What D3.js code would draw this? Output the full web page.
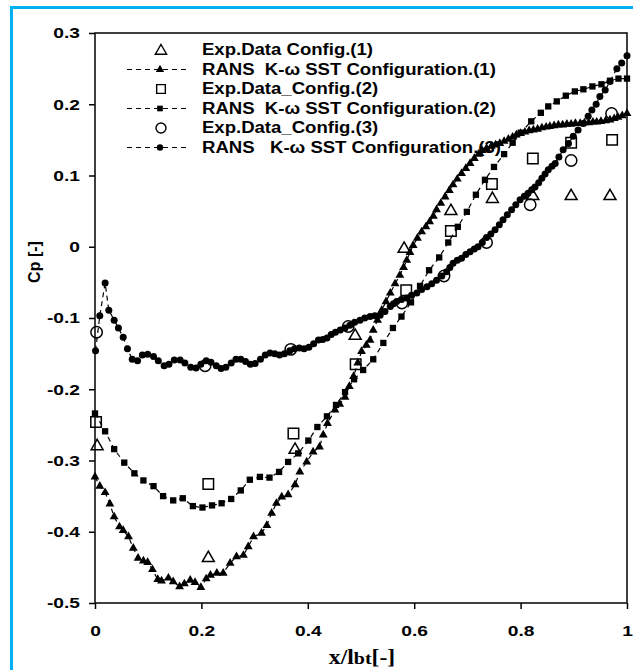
<!DOCTYPE html>
<html>

<head>
	<meta charset="utf-8">
	<title>Cp distribution</title>
	<script src="https://d3js.org/d3.v7.min.js"></script>
</head>

<style>
	body {
		margin: 0;
		background: #fff;
	}

	text {
		font-family: Arial, "Liberation Sans", sans-serif;
		font-weight: bold;
	}
</style>

<body>
	<svg id="room" width="633" height="670"></svg>
</body>
<script>
	// tick values
	var xTicks = [0, 0.2, 0.4, 0.6, 0.8, 1]
	var yTicks = [-0.5, -0.4, -0.3, -0.2, -0.1, 0, 0.1, 0.2, 0.3]

	// experimental points
	var exp1X = [0.004, 0.213, 0.376, 0.489, 0.581, 0.669, 0.747, 0.823, 0.895, 0.968]
	var exp1Y = [-0.28, -0.437, -0.285, -0.125, -0.003, 0.05, 0.067, 0.071, 0.071, 0.071]

	var exp2X = [0.002, 0.213, 0.373, 0.49, 0.585, 0.669, 0.746, 0.823, 0.895, 0.972]
	var exp2Y = [-0.246, -0.333, -0.262, -0.165, -0.061, 0.022, 0.088, 0.124, 0.146, 0.15]

	var exp3X = [0.003, 0.207, 0.368, 0.476, 0.577, 0.656, 0.736, 0.818, 0.895, 0.971]
	var exp3Y = [-0.12, -0.167, -0.144, -0.112, -0.079, -0.041, 0.006, 0.059, 0.121, 0.187]

	// RANS k-w SST, config 1
	var rans1X = [0, 0.009, 0.019, 0.028, 0.036, 0.046, 0.053, 0.063, 0.072, 0.081, 0.091, 0.099, 0.108, 0.118, 0.125,
		0.138, 0.147, 0.159, 0.168, 0.179, 0.188, 0.199, 0.209, 0.217, 0.229, 0.241, 0.254, 0.266, 0.279, 0.288, 0.298,
		0.313, 0.323, 0.332, 0.341, 0.351, 0.363, 0.376, 0.385, 0.398, 0.41, 0.422, 0.429, 0.437, 0.451, 0.46, 0.47,
		0.478, 0.486, 0.494, 0.501, 0.51, 0.517, 0.523, 0.531, 0.539, 0.547, 0.555, 0.564, 0.573, 0.58, 0.586, 0.592,
		0.598, 0.606, 0.614, 0.622, 0.629, 0.636, 0.642, 0.65, 0.658, 0.666, 0.673, 0.681, 0.689, 0.697, 0.705, 0.713,
		0.721, 0.728, 0.736, 0.745, 0.753, 0.761, 0.769, 0.777, 0.785, 0.792, 0.8, 0.808, 0.816, 0.824, 0.832, 0.84,
		0.848, 0.855, 0.863, 0.871, 0.879, 0.887, 0.895, 0.903, 0.912, 0.92, 0.928, 0.936, 0.943, 0.951, 0.96, 0.968,
		0.976, 0.983, 0.991, 1
	]
	var rans1Y = [-0.323, -0.336, -0.345, -0.361, -0.379, -0.393, -0.398, -0.407, -0.423, -0.437, -0.441, -0.443, -0.453,
		-0.467, -0.469, -0.465, -0.47, -0.477, -0.473, -0.468, -0.471, -0.478, -0.466, -0.461, -0.458, -0.458, -0.444,
		-0.435, -0.433, -0.421, -0.407, -0.402, -0.391, -0.374, -0.36, -0.351, -0.348, -0.334, -0.316, -0.302, -0.288,
		-0.281, -0.264, -0.248, -0.229, -0.221, -0.211, -0.196, -0.182, -0.163, -0.147, -0.138, -0.131, -0.117, -0.103,
		-0.089, -0.077, -0.065, -0.052, -0.04, -0.029, -0.019, -0.008, 0.002, 0.012, 0.021, 0.028, 0.035, 0.043, 0.052,
		0.061, 0.07, 0.079, 0.087, 0.095, 0.103, 0.11, 0.117, 0.124, 0.13, 0.135, 0.138, 0.141, 0.143, 0.145, 0.148,
		0.151, 0.154, 0.157, 0.159, 0.161, 0.163, 0.164, 0.165, 0.167, 0.168, 0.169, 0.17, 0.171, 0.171, 0.172, 0.172,
		0.173, 0.173, 0.174, 0.174, 0.175, 0.175, 0.176, 0.177, 0.178, 0.18, 0.182, 0.184, 0.187
	]

	// RANS k-w SST, config 2
	var rans2X = [0, 0.019, 0.036, 0.055, 0.074, 0.091, 0.11, 0.128, 0.147, 0.165, 0.184, 0.202, 0.22, 0.238, 0.256,
		0.274, 0.291, 0.31, 0.328, 0.346, 0.363, 0.382, 0.401, 0.418, 0.436, 0.453, 0.47, 0.487, 0.504, 0.523, 0.542,
		0.56, 0.576, 0.594, 0.611, 0.628, 0.647, 0.664, 0.682, 0.699, 0.716, 0.733, 0.75, 0.769, 0.785, 0.8, 0.82,
		0.838, 0.852, 0.868, 0.885, 0.902, 0.918, 0.935, 0.952, 0.968, 0.984, 1
	]
	var rans2Y = [-0.234, -0.259, -0.284, -0.303, -0.318, -0.328, -0.336, -0.35, -0.356, -0.353, -0.364, -0.366, -0.363,
		-0.36, -0.354, -0.342, -0.327, -0.323, -0.324, -0.316, -0.302, -0.29, -0.272, -0.253, -0.238, -0.222, -0.204,
		-0.186, -0.173, -0.158, -0.135, -0.114, -0.098, -0.078, -0.055, -0.033, -0.015, 0.006, 0.028, 0.049, 0.073,
		0.094, 0.112, 0.13, 0.146, 0.16, 0.176, 0.188, 0.197, 0.204, 0.212, 0.218, 0.221, 0.225, 0.228, 0.233, 0.236,
		0.236
	]

	// RANS k-w SST, config 3
	var rans3X = [0.001, 0.009, 0.019, 0.026, 0.036, 0.044, 0.053, 0.061, 0.07, 0.08, 0.089, 0.099, 0.11, 0.119, 0.13,
		0.139, 0.149, 0.16, 0.169, 0.18, 0.19, 0.199, 0.209, 0.218, 0.228, 0.237, 0.246, 0.256, 0.265, 0.274, 0.283,
		0.292, 0.301, 0.311, 0.32, 0.329, 0.338, 0.347, 0.356, 0.366, 0.375, 0.384, 0.393, 0.402, 0.411, 0.42, 0.428,
		0.436, 0.444, 0.452, 0.461, 0.47, 0.479, 0.488, 0.498, 0.507, 0.517, 0.526, 0.536, 0.545, 0.555, 0.561, 0.567,
		0.576, 0.586, 0.595, 0.605, 0.614, 0.624, 0.633, 0.642, 0.652, 0.661, 0.667, 0.673, 0.681, 0.689, 0.697, 0.705,
		0.713, 0.72, 0.728, 0.736, 0.744, 0.752, 0.76, 0.767, 0.775, 0.783, 0.791, 0.799, 0.807, 0.814, 0.821, 0.827,
		0.834, 0.84, 0.846, 0.852, 0.859, 0.865, 0.872, 0.88, 0.89, 0.899, 0.908, 0.918, 0.927, 0.934, 0.942, 0.949,
		0.959, 0.968, 0.981, 0.99, 1
	]
	var rans3Y = [-0.146, -0.097, -0.051, -0.089, -0.103, -0.114, -0.127, -0.143, -0.158, -0.16, -0.152, -0.151, -0.154,
		-0.16, -0.167, -0.165, -0.159, -0.159, -0.163, -0.169, -0.17, -0.165, -0.16, -0.162, -0.167, -0.171, -0.169,
		-0.163, -0.158, -0.158, -0.161, -0.165, -0.164, -0.158, -0.152, -0.149, -0.15, -0.152, -0.15, -0.146, -0.143,
		-0.142, -0.143, -0.141, -0.136, -0.131, -0.13, -0.128, -0.123, -0.12, -0.117, -0.114, -0.11, -0.106, -0.103,
		-0.1, -0.098, -0.097, -0.096, -0.091, -0.084, -0.08, -0.077, -0.074, -0.072, -0.068, -0.065, -0.06, -0.056,
		-0.052, -0.047, -0.041, -0.035, -0.029, -0.023, -0.019, -0.016, -0.011, -0.007, -0.003, 0, 0.006, 0.013, 0.018,
		0.024, 0.031, 0.038, 0.045, 0.052, 0.059, 0.066, 0.071, 0.075, 0.08, 0.084, 0.09, 0.096, 0.102, 0.108, 0.113,
		0.117, 0.126, 0.136, 0.145, 0.155, 0.164, 0.173, 0.183, 0.192, 0.2, 0.211, 0.22, 0.232, 0.25, 0.258, 0.268
	]

	var legendLabels = [
		"Exp.Data Config.(1)",
		"RANS  K-\u03c9 SST Configuration.(1)",
		"Exp.Data_Config.(2)",
		"RANS  K-\u03c9 SST Configuration.(2)",
		"Exp.Data_Config.(3)",
		"RANS   K-\u03c9 SST Configuration.(3)"
	]

	var margin = { top: 33, right: 6, bottom: 67, left: 95 }
	var svg = d3.select('#room')
	var width = +svg.attr("width") - margin.left - margin.right
	var height = +svg.attr("height") - margin.top - margin.bottom

	function zip(xs, ys) {
		return xs.map(function (d, i) { return [d, ys[i]] })
	}

	// widen a text about its own x anchor
	function widen(sel, k) {
		sel.each(function () {
			var t = d3.select(this)
			var x0 = +t.attr("x") || 0
			t.attr("x", x0 / k).attr("transform", "scale(" + k + ",1)")
		})
	}

	// blue frame round the picture
	svg.append("rect")
		.attr("x", 11.5).attr("y", 7.5)
		.attr("width", 660).attr("height", 700)
		.attr("fill", "none")
		.attr("stroke", "#00b0f0")
		.attr("stroke-width", 3)

	var g = svg.append("g").attr("transform", "translate(" + margin.left + "," + margin.top + ")")

	var x = d3.scaleLinear().domain([0, 1]).range([0, width])
	var y = d3.scaleLinear().domain([-0.5, 0.3]).range([height, 0])

	var xAxis = d3.axisBottom(x).tickValues(xTicks).tickSize(6).tickPadding(16).tickSizeOuter(0)
		.tickFormat(function (d) { return String(d) })
	var yAxis = d3.axisLeft(y).tickValues(yTicks).tickSize(6).tickPadding(9).tickSizeOuter(0)
		.tickFormat(function (d) { return d === 0 ? "0" : d.toFixed(1) })

	g.append("g").attr("transform", "translate(0," + height + ")").call(xAxis)
	g.append("g").call(yAxis)

	g.selectAll(".domain").remove()
	g.selectAll(".tick line").attr("stroke", "#000").attr("stroke-width", 1.5)
	g.selectAll(".tick text").attr("fill", "#000").style("font-size", "15px")
	widen(g.selectAll(".tick text"), 1.28)

	// plot frame
	g.append("rect")
		.attr("width", width).attr("height", height)
		.attr("fill", "none").attr("stroke", "#111").attr("stroke-width", 1.6)

	// axis titles
	var xt = svg.append("text")
		.attr("x", 362).attr("y", 664)
		.attr("text-anchor", "middle")
		.style("font-family", "'Times New Roman', 'Liberation Serif', serif")
		.style("font-size", "20px")
	xt.append("tspan").text("x/l")
	xt.append("tspan").style("font-size", "17px").text("bt")
	xt.append("tspan").text("[-]")
	widen(xt, 1.18)

	svg.append("text")
		.attr("transform", "translate(40,262) rotate(-90)")
		.attr("text-anchor", "middle")
		.style("font-size", "16px")
		.text("Cp [-]")

	// legend (drawn under the data)
	var leg = g.append("g")
	var rowY = [17, 36.5, 56, 75.5, 95, 114.5]
	var legText = leg.selectAll("text").data(legendLabels).enter().append("text")
		.attr("x", 107).attr("y", function (d, i) { return rowY[i] + 5.5 })
		.attr("xml:space", "preserve")
		.style("white-space", "pre")
		.style("font-size", "16px")
		.text(function (d) { return d })
	widen(legText, 1.16)

	leg.selectAll("line").data([1, 3, 5]).enter().append("line")
		.attr("x1", 32).attr("x2", 94)
		.attr("y1", function (d) { return rowY[d] }).attr("y2", function (d) { return rowY[d] })
		.attr("stroke", "#000").attr("stroke-width", 1.2).attr("stroke-dasharray", "5,4")

	var tri = d3.symbol().type(d3.symbolTriangle)
	var sq = d3.symbol().type(d3.symbolSquare)

	leg.append("path").attr("d", tri.size(55)()).attr("transform", "translate(66," + (rowY[0] + 1) + ")")
		.attr("fill", "#fff").attr("stroke", "#000").attr("stroke-width", 1.4)
	leg.append("path").attr("d", tri.size(30)()).attr("transform", "translate(65," + rowY[1] + ")")
	leg.append("path").attr("d", sq.size(75)()).attr("transform", "translate(66," + rowY[2] + ")")
		.attr("fill", "#fff").attr("stroke", "#000").attr("stroke-width", 1.4)
	leg.append("path").attr("d", sq.size(32)()).attr("transform", "translate(65," + rowY[3] + ")")
	leg.append("circle").attr("cx", 66).attr("cy", rowY[4]).attr("r", 5)
		.attr("fill", "#fff").attr("stroke", "#000").attr("stroke-width", 1.4)
	leg.append("circle").attr("cx", 65).attr("cy", rowY[5]).attr("r", 3.2)

	// dashed RANS lines with filled marks
	var line = d3.line().x(function (d) { return x(d[0]) }).y(function (d) { return y(d[1]) })
	var ransSeries = [
		{ data: zip(rans1X, rans1Y), mark: "tri" },
		{ data: zip(rans2X, rans2Y), mark: "sq" },
		{ data: zip(rans3X, rans3Y), mark: "dot" }
	]

	ransSeries.forEach(function (s) {
		g.append("path").datum(s.data)
			.attr("d", line)
			.attr("fill", "none").attr("stroke", "#000").attr("stroke-width", 1.2)
			.attr("stroke-dasharray", "5,4")

		var pts = g.append("g").selectAll("path").data(s.data).enter()
		if (s.mark === "dot") {
			pts.append("circle")
				.attr("cx", function (d) { return x(d[0]) })
				.attr("cy", function (d) { return y(d[1]) })
				.attr("r", 3.5)
		} else {
			pts.append("path")
				.attr("d", s.mark === "tri" ? tri.size(34)() : sq.size(40)())
				.attr("transform", function (d) { return "translate(" + x(d[0]) + "," + y(d[1]) + ")" })
		}
	})

	// open experimental markers
	var open = g.append("g").attr("fill", "none").attr("stroke", "#000").attr("stroke-width", 1.5)
	open.selectAll(".e1").data(zip(exp1X, exp1Y)).enter().append("path")
		.attr("d", tri.size(62)())
		.attr("transform", function (d) { return "translate(" + x(d[0]) + "," + y(d[1]) + ")" })
	open.selectAll(".e2").data(zip(exp2X, exp2Y)).enter().append("path")
		.attr("d", sq.size(110)())
		.attr("transform", function (d) { return "translate(" + x(d[0]) + "," + y(d[1]) + ")" })
	open.selectAll(".e3").data(zip(exp3X, exp3Y)).enter().append("circle")
		.attr("cx", function (d) { return x(d[0]) })
		.attr("cy", function (d) { return y(d[1]) })
		.attr("r", 5.7)
</script>

</html>
